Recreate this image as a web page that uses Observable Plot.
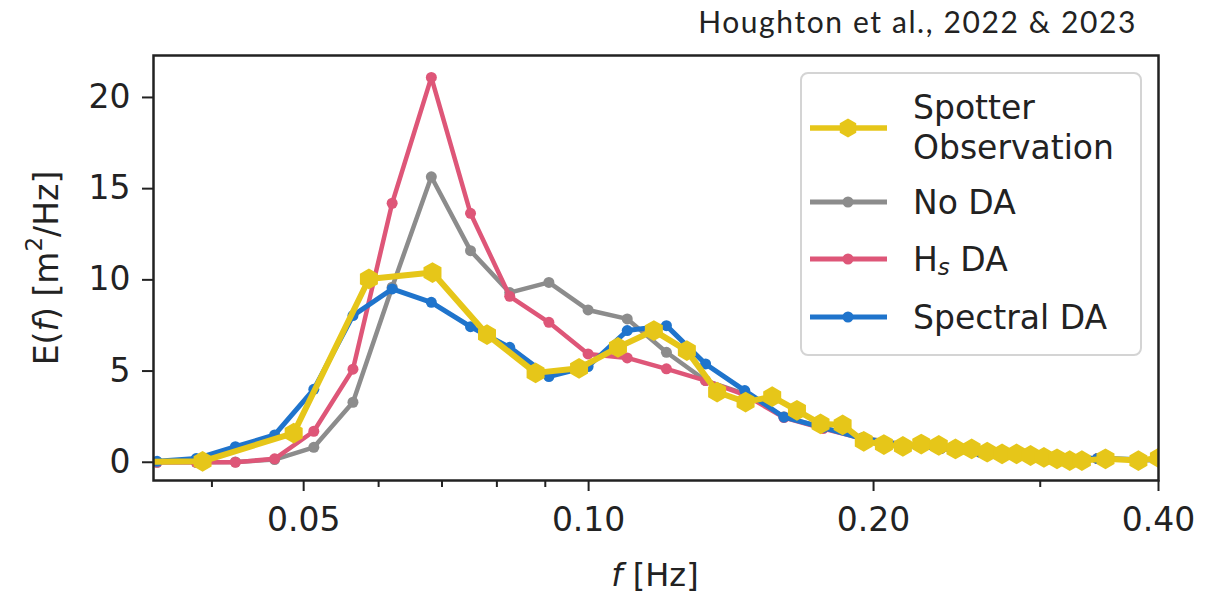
<!DOCTYPE html>
<html><head><meta charset="utf-8">
<script src="https://cdn.jsdelivr.net/npm/d3@7"></script>
<script src="https://cdn.jsdelivr.net/npm/@observablehq/plot@0.6"></script>
<style>
body{margin:0;background:#fff;}
#wrap{position:relative;width:1222px;height:596px;}
#title{position:absolute;right:85px;top:6px;font-family:Lato,sans-serif;font-size:30px;line-height:30px;letter-spacing:1.6px;color:#222;white-space:nowrap;}
#wrap svg{position:absolute;left:0;top:0;}
</style></head><body>
<div id="wrap"><div id="title">Houghton et al., 2022 &amp; 2023</div></div>
<script>
// ---- data ----
const modelFreq = [0.035, 0.0385, 0.04235, 0.04659, 0.05125, 0.05637, 0.06201, 0.06821, 0.07503, 0.08254, 0.09079, 0.09987, 0.10985, 0.12084, 0.13292, 0.14621, 0.16083, 0.17692, 0.19461, 0.21407, 0.23548, 0.25903, 0.28493, 0.31342, 0.34477, 0.37924, 0.41717];
const noDA    = [0, 0, 0.02, 0.15, 0.82, 3.29, 9.6, 15.65, 11.6, 9.3, 9.86, 8.35, 7.86, 6.03, 4.48, 3.75, 2.5, 1.9, 1.35, 1.0, 0.78, 0.58, 0.42, 0.3, 0.2, 0.15, 0.1];
const hsDA    = [0, 0, 0, 0.19, 1.7, 5.1, 14.2, 21.1, 13.65, 9.1, 7.67, 5.94, 5.72, 5.12, 4.48, 3.7, 2.45, 1.85, 1.3, 0.98, 0.75, 0.56, 0.4, 0.28, 0.2, 0.14, 0.1];
const specDA  = [0.05, 0.2, 0.85, 1.5, 4.0, 8.04, 9.5, 8.77, 7.43, 6.3, 4.7, 5.25, 7.22, 7.49, 5.39, 3.93, 2.47, 1.9, 1.3, 0.95, 0.75, 0.55, 0.4, 0.3, 0.2, 0.15, 0.1];
const spotFreq = [0.0293, 0.0391, 0.0488, 0.0586, 0.0684, 0.0781, 0.0879, 0.0977, 0.1074, 0.1172, 0.1270, 0.1367, 0.1465, 0.1563, 0.1660, 0.1758, 0.1855, 0.1953, 0.2051, 0.2148, 0.2246, 0.2344, 0.2441, 0.2539, 0.2637, 0.2734, 0.2832, 0.2930, 0.3027, 0.3125, 0.3223, 0.3320, 0.3516, 0.3809, 0.4004];
const spotter  = [0, 0.05, 1.6, 10.05, 10.4, 7.0, 4.9, 5.15, 6.3, 7.22, 6.12, 3.85, 3.3, 3.6, 2.85, 2.1, 2.05, 1.15, 0.97, 0.87, 1.0, 0.92, 0.73, 0.73, 0.55, 0.46, 0.46, 0.37, 0.27, 0.19, 0.09, 0.09, 0.19, 0.09, 0.24];
const xMajorTicks = [0.05, 0.1, 0.2, 0.4];
const xMinorTicks = [0.04, 0.06, 0.07, 0.08, 0.09, 0.3];
const yTicks = [0, 5, 10, 15, 20];
const seriesNames = ["Spotter Observation", "No DA", "Hs DA", "Spectral DA"];

// ---- styles ----
const colors = {"Spotter Observation": "#e6c619", "No DA": "#8c8c8c", "Hs DA": "#de5678", "Spectral DA": "#1f74cc"};

const modelRows = (vals) => modelFreq.map((f, i) => ({f, e: vals[i]}));
const spotRows = spotFreq.map((f, i) => ({f, e: spotter[i]}));
const gray = modelRows(noDA), red = modelRows(hsDA), blue = modelRows(specDA);

const chart = Plot.plot({
  width: 1222, height: 596,
  marginLeft: 153, marginRight: 64, marginTop: 55, marginBottom: 116,
  style: {fontFamily: "DejaVu Sans", fontSize: "33px", color: "#222", background: "transparent"},
  x: {type: "log", domain: [0.0347, 0.4]},
  y: {domain: [-1, 22.3]},
  marks: [
    Plot.axisX({ticks: xMinorTicks, tickSize: 7, tickFormat: () => "", label: null, strokeWidth: 2}),
    Plot.axisX({ticks: xMajorTicks, tickSize: 11, tickPadding: 16, tickFormat: d => d.toFixed(2), label: null, strokeWidth: 2}),
    Plot.axisY({ticks: yTicks, tickSize: 11, tickPadding: 12, label: null, strokeWidth: 2}),
    Plot.line(gray, {x: "f", y: "e", stroke: colors["No DA"], strokeWidth: 4.5, clip: true}),
    Plot.dot(gray, {x: "f", y: "e", fill: colors["No DA"], r: 5.5, clip: true}),
    Plot.line(red, {x: "f", y: "e", stroke: colors["Hs DA"], strokeWidth: 4.5, clip: true}),
    Plot.dot(red, {x: "f", y: "e", fill: colors["Hs DA"], r: 5.5, clip: true}),
    Plot.line(blue, {x: "f", y: "e", stroke: colors["Spectral DA"], strokeWidth: 5, clip: true}),
    Plot.dot(blue, {x: "f", y: "e", fill: colors["Spectral DA"], r: 5.5, clip: true}),
    Plot.line(spotRows, {x: "f", y: "e", stroke: colors["Spotter Observation"], strokeWidth: 6, clip: true}),
    Plot.dot(spotRows, {x: "f", y: "e", fill: colors["Spotter Observation"], symbol: "hexagon", r: 9, clip: true}),
    Plot.frame({stroke: "#222", strokeWidth: 2.5})
  ]
});
document.getElementById("wrap").appendChild(chart);

// ---- axis labels ----
const svg = d3.select(chart);
const ylab = svg.append("text").attr("transform", "translate(46,268) rotate(-90)")
  .attr("text-anchor", "middle").attr("dominant-baseline", "central")
  .attr("font-family", "DejaVu Sans").attr("font-size", 33).attr("fill", "#222");
ylab.append("tspan").text("E(");
ylab.append("tspan").attr("font-style", "italic").text("f");
ylab.append("tspan").text(") [m");
ylab.append("tspan").attr("font-size", 23).attr("dy", -12).text("2");
ylab.append("tspan").attr("dy", 12).text("/Hz]");

const xlab = svg.append("text").attr("x", 655).attr("y", 586).attr("text-anchor", "middle")
  .attr("font-family", "DejaVu Sans").attr("font-size", 32).attr("fill", "#222");
xlab.append("tspan").attr("font-style", "italic").text("f");
xlab.append("tspan").text(" [Hz]");

// ---- legend ----
const lg = svg.append("g").attr("font-family", "DejaVu Sans").attr("font-size", 33).attr("fill", "#222").attr("text-anchor", "start");
lg.append("rect").attr("x", 801).attr("y", 73).attr("width", 340).attr("height", 282).attr("rx", 7)
  .attr("fill", "white").attr("fill-opacity", 0.85).attr("stroke", "#d4d4d4").attr("stroke-width", 2);
const entryY = [128, 202, 259, 317];
seriesNames.forEach((name, i) => {
  const y = entryY[i], c = colors[name];
  lg.append("line").attr("x1", 810).attr("x2", 887).attr("y1", y).attr("y2", y)
    .attr("stroke", c).attr("stroke-width", name === "Spotter Observation" ? 5.5 : 5);
  if (name === "Spotter Observation") {
    const R = 9.5, pts = d3.range(6).map(k => {
      const a = Math.PI / 2 + k * Math.PI / 3;
      return [848 + R * Math.cos(a), y + R * Math.sin(a)];
    });
    lg.append("path").attr("d", "M" + pts.join("L") + "Z").attr("fill", c);
    lg.append("text").attr("x", 913).attr("y", y - 21).attr("dominant-baseline", "central").text("Spotter");
    lg.append("text").attr("x", 913).attr("y", y + 19).attr("dominant-baseline", "central").text("Observation");
  } else {
    lg.append("circle").attr("cx", 848).attr("cy", y).attr("r", 5.5).attr("fill", c);
    const t = lg.append("text").attr("x", 913).attr("y", y).attr("dominant-baseline", "central");
    if (name === "Hs DA") {
      t.append("tspan").text("H");
      t.append("tspan").attr("font-style", "italic").attr("font-size", 23).attr("dy", 8).text("s");
      t.append("tspan").attr("dy", -8).text(" DA");
    } else {
      t.text(name);
    }
  }
});
</script>
</body></html>
